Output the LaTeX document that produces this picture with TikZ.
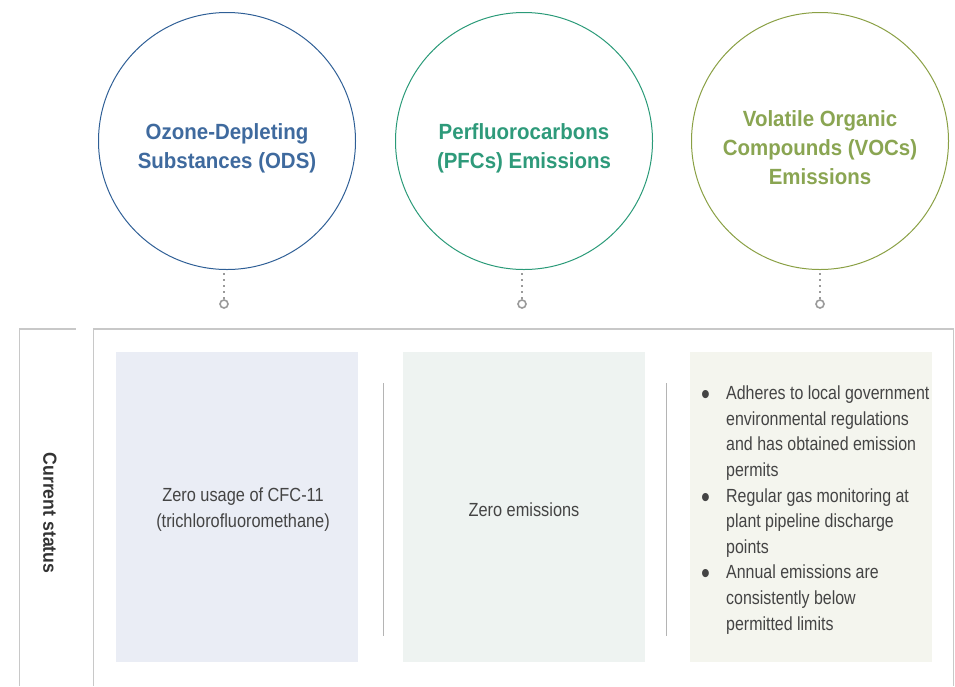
\documentclass[tikz,border=0pt]{standalone}
\usepackage{fontspec}
\setmainfont{Liberation Sans}[FakeStretch=0.86]
\newfontfamily\headfont{Liberation Sans}[FakeStretch=0.93]
\newfontfamily\listfont{Liberation Sans}[FakeStretch=0.84]
\definecolor{odsc}{HTML}{3F6A9E}
\definecolor{odsl}{HTML}{2F5F96}
\definecolor{pfcc}{HTML}{2E9A7A}
\definecolor{pfcl}{HTML}{2A9A78}
\definecolor{vocc}{HTML}{8AA552}
\definecolor{vocl}{HTML}{8AA044}
\definecolor{framec}{HTML}{C8C8C8}
\definecolor{sepc}{HTML}{B4B4B4}
\definecolor{dotc}{HTML}{9A9A9A}
\definecolor{bodyc}{HTML}{444444}
\definecolor{panelA}{HTML}{EAEDF5}
\definecolor{panelB}{HTML}{EEF3F1}
\definecolor{panelC}{HTML}{F4F5EE}
\newcommand{\bul}{\makebox[26pt][l]{\hspace*{1pt}{\fontsize{30}{0}\selectfont\raisebox{-5pt}{•}}}}
\begin{document}
\begin{tikzpicture}[x=1pt,y=-1pt,
  bigcirc/.style={circle, minimum size=257pt, line width=1pt, inner sep=0pt},
  title/.style={font=\headfont\fontsize{22}{29}\selectfont\bfseries, align=center},
  body/.style={font=\fontsize{19}{26}\selectfont, text=bodyc, align=center},
  panel/.style={minimum width=242pt, minimum height=310pt, inner sep=0pt, anchor=north west},
  ring/.style={circle, draw=dotc, line width=1.6pt, minimum size=8pt, inner sep=0pt},
  dotline/.style={dotc, line width=1.6pt, dash pattern=on 1.6pt off 4.4pt},
  frameline/.style={framec, line width=1pt},
  sepline/.style={sepc, line width=1pt}]
\useasboundingbox (0,0) rectangle (955,686);

% circles
\node[bigcirc, draw=odsl] (c1) at (227,141) {};
\node[bigcirc, draw=pfcl] (c2) at (524,141) {};
\node[bigcirc, draw=vocl] (c3) at (820,141) {};
\node[title, text=odsc] (t1) at (227,148) {Ozone-Depleting\\Substances (ODS)};
\node[title, text=pfcc] (t2) at (524,148) {Perfluorocarbons\\(PFCs) Emissions};
\node[title, text=vocc] (t3) at (820,148) {Volatile Organic\\Compounds (VOCs)\\Emissions};

% rings + dotted connectors
\node[ring] (r1) at (224,304) {};
\node[ring] (r2) at (522,304) {};
\node[ring] (r3) at (820,304) {};
\coordinate (d1) at (224,273);
\coordinate (d2) at (522,273);
\coordinate (d3) at (820,273);
\draw[dotline] (d1) -- (r1.north);
\draw[dotline] (d2) -- (r2.north);
\draw[dotline] (d3) -- (r3.north);

% frames
\coordinate (la) at (19,686);
\coordinate (lb) at (19,328.5);
\coordinate (lc) at (76,328.5);
\draw[frameline] (la) -- (lb);
\draw[framec, line width=2pt] (lb) -- (lc);
\coordinate (ma) at (93,686);
\coordinate (mb) at (93,328.5);
\coordinate (mc) at (953.5,328.5);
\coordinate (md) at (953.5,686);
\draw[frameline] (ma) -- (mb);
\draw[framec, line width=2pt] (mb) -- (mc);
\draw[frameline] (mc) -- (md);

\node[font=\headfont\fontsize{19}{24}\selectfont\bfseries, text=black!80, rotate=-90] (lab) at (50,513) {Current status};

% panels
\node[panel, fill=panelA] (p1) at (116,352) {};
\node[panel, fill=panelB] (p2) at (403,352) {};
\node[panel, fill=panelC] (p3) at (690,352) {};

% separators
\coordinate (s1a) at (383,383);
\coordinate (s1b) at (383,636);
\coordinate (s2a) at (666,383);
\coordinate (s2b) at (666,636);
\draw[sepline] (s1a) -- (s1b);
\draw[sepline] (s2a) -- (s2b);

% texts
\node[body] (b1) at (243,510) {Zero usage of CFC-11\\(trichlorofluoromethane)};
\node[body] (b2) at (524,510) {Zero emissions};
\node[font=\listfont\fontsize{19}{25.6}\selectfont, text=bodyc, align=left, anchor=west, inner sep=0pt] (b3) at (700,510) {%
\bul Adheres to local government\\
\hspace*{26pt}environmental regulations\\
\hspace*{26pt}and has obtained emission\\
\hspace*{26pt}permits\\
\bul Regular gas monitoring at\\
\hspace*{26pt}plant pipeline discharge\\
\hspace*{26pt}points\\
\bul Annual emissions are\\
\hspace*{26pt}consistently below\\
\hspace*{26pt}permitted limits};
\end{tikzpicture}
\end{document}
